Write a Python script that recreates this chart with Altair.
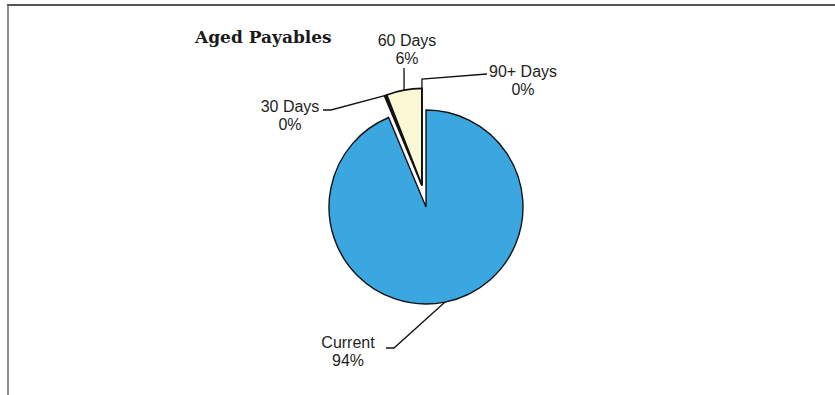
import math
import altair as alt
import pandas as pd

# ---------------- data ----------------
categories = ["Current", "30 Days", "60 Days", "90+ Days"]
shares = [93.7, 0.4, 5.9, 0.0]
pct_labels = ["94%", "0%", "6%", "0%"]
fill_colors = ["#3BA7E0", "#16221A", "#FBF8D5", "#FBF8D5"]
exploded = [False, True, True, True]
title_text = "Aged Payables"

# ---------------- layout ----------------
W, H = 835, 395
CX, CY, R = 426, 207, 97
EXPLODE = 22
# label text anchor (centre x, first baseline y)
label_pos = {
    "Current": (348, 348),
    "30 Days": (290, 112),
    "60 Days": (407, 46),
    "90+ Days": (523, 77),
}
# leader points near the label
leader_start = {
    "Current": [(386, 348), (394, 348)],
    "30 Days": [(323, 110), (331, 110)],
    "60 Days": [(404, 68)],
    "90+ Days": [(487, 74), (None, 79)],
}

# ---------------- geometry from data ----------------
total = sum(shares)
starts, ends = [], []
acc = 0.0
for v in shares:
    starts.append(acc)
    acc += v
    ends.append(acc)

def ang(p):
    return p / total * 2 * math.pi

i60 = categories.index("60 Days")
mid60 = ang((starts[i60] + ends[i60]) / 2)
EX_DX = EXPLODE * math.sin(mid60)
EX_DY = -EXPLODE * math.cos(mid60)

pie_df = pd.DataFrame({
    "label": categories,
    "start": starts,
    "end": ends,
    "exploded": exploded,
    "order": list(range(len(categories))),
})

rows = []
for i, c in enumerate(categories):
    a = ang((starts[i] + ends[i]) / 2)
    cx = CX + (EX_DX if exploded[i] else 0)
    cy = CY + (EX_DY if exploded[i] else 0)
    ex, ey = cx + R * math.sin(a), cy - R * math.cos(a)
    pts = []
    for (px, py) in leader_start[c]:
        pts.append((ex if px is None else px, py))
    pts.append((ex, ey))
    for k, (px, py) in enumerate(pts):
        rows.append({"label": c, "k": k, "px": px, "py": py})
leader_df = pd.DataFrame(rows)

text_df = pd.DataFrame({
    "label": categories,
    "text": [f"{c}\n{p}" for c, p in zip(categories, pct_labels)],
    "tx": [label_pos[c][0] for c in categories],
    "ty": [label_pos[c][1] for c in categories],
})

color_scale = alt.Scale(domain=categories, range=fill_colors)
theta_scale = alt.Scale(domain=[0, total], range=[0, 2 * math.pi])

def arc_layer(explode_flag, dx, dy, sw):
    return alt.Chart(pie_df).transform_filter(
        alt.datum.exploded == explode_flag
    ).mark_arc(outerRadius=R, stroke="#111111", strokeWidth=sw).encode(
        theta=alt.Theta("start:Q", scale=theta_scale),
        theta2="end:Q",
        color=alt.Color("label:N", scale=color_scale, legend=None),
        order=alt.Order("order:Q"),
        x=alt.value(CX + dx),
        y=alt.value(CY + dy),
    )

base_arc = arc_layer(False, 0, 0, 1.4)
exp_arc = arc_layer(True, EX_DX, EX_DY, 1.7)

leaders = alt.Chart(leader_df).mark_line(color="#111111", strokeWidth=1.3).encode(
    x=alt.X("px:Q", scale=None, axis=None),
    y=alt.Y("py:Q", scale=None, axis=None),
    detail="label:N",
    order="k:Q",
)

labels = alt.Chart(text_df).mark_text(
    lineBreak="\n", lineHeight=18, align="center", baseline="alphabetic",
    font="Liberation Sans", fontSize=16, color="#1e1e1e",
).encode(
    x=alt.X("tx:Q", scale=None, axis=None),
    y=alt.Y("ty:Q", scale=None, axis=None),
    text="text:N",
)

one = pd.DataFrame({"a": [0]})
title = alt.Chart(one).mark_text(
    text=title_text, font="DejaVu Serif", fontWeight="bold", fontSize=17,
    align="left", baseline="alphabetic", color="#1a1a1a",
).encode(x=alt.value(195), y=alt.value(43))

top_border = alt.Chart(one).mark_rule(color="#555555", strokeWidth=2).encode(
    x=alt.value(7), x2=alt.value(W), y=alt.value(5))
left_border = alt.Chart(one).mark_rule(color="#666666", strokeWidth=1.5).encode(
    x=alt.value(8), y=alt.value(5), y2=alt.value(H))

chart = alt.layer(
    top_border, left_border, base_arc, exp_arc, leaders, labels, title
).properties(
    width=W, height=H, padding=0, autosize=alt.AutoSizeParams(type="none"),
    background="white",
).configure_view(stroke=None)

chart.save("out.html", embed_options={"renderer": "svg", "actions": False})
